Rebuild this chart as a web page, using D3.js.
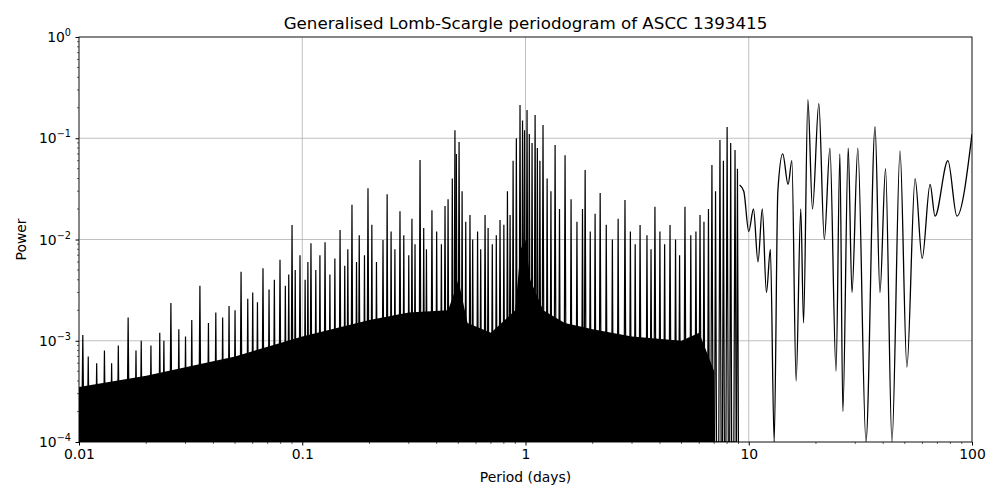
<!DOCTYPE html>
<html><head><meta charset="utf-8">
<script src="https://cdn.jsdelivr.net/npm/d3@7"></script>
<style>body{margin:0;background:#fff}text{font-family:"DejaVu Sans",sans-serif}</style>
</head><body><svg id="c" width="1000" height="500"></svg>
<script>
// noise-floor band (dense region)
const bandPeriod=[0.01,0.02,0.05,0.1,0.2,0.3,0.45,0.48,0.5,0.55,0.7,0.9,0.95,1.0,1.05,1.2,1.5,2,3,5,6,7];
const bandPower =[3.5e-4,4.5e-4,7e-4,1.1e-3,1.6e-3,1.9e-3,2e-3,3e-3,4e-3,1.5e-3,1.2e-3,2e-3,8e-3,1e-2,4e-3,2e-3,1.5e-3,1.3e-3,1.1e-3,1e-3,1.2e-3,5e-4];
// individual main peaks
const spikePeriod=[0.0104,0.0166,0.0258,0.0348,0.0532,0.0667,0.0795,0.090,0.0977,0.1094,0.1265,0.1477,0.167,0.197,0.230,0.274,0.337,0.381,0.436,0.483,0.504,0.564,0.659,0.769,0.853,0.945,1.016,1.104,1.198,1.357,1.504,1.85,2.16,2.79,3.26,3.80,4.44,5.18,6.05,6.84,7.43,8.0,8.68];
const spikePower=[1.14e-3,1.7e-3,2.36e-3,3.5e-3,4.8e-3,5.2e-3,6.3e-3,1.39e-2,7e-3,9.2e-3,9.4e-3,1.24e-2,2.2e-2,3.2e-2,9.9e-3,1.9e-2,6.1e-2,1.95e-2,2.14e-2,0.12,0.092,1.75e-2,1.75e-2,1.56e-2,1.75e-2,0.213,0.19,0.17,0.135,0.086,0.068,0.0486,0.0288,0.0245,0.0139,0.021,0.0139,0.021,0.0175,0.0544,0.096,0.129,0.0766];
// secondary peaks (texture)
const minorPeriod=[0.011,0.012,0.013,0.014,0.015,0.018,0.019,0.021,0.023,0.024,0.028,0.030,0.032,0.038,0.041,0.044,0.047,0.050,0.057,0.060,0.063,0.071,0.075,0.084,0.087,0.093,0.103,0.106,0.115,0.12,0.133,0.14,0.155,0.16,0.175,0.18,0.19,0.205,0.215,0.24,0.25,0.26,0.285,0.30,0.31,0.32,0.35,0.36,0.40,0.42,0.45,0.47,0.49,0.52,0.54,0.58,0.61,0.63,0.68,0.71,0.74,0.80,0.83,0.88,0.91,0.97,0.99,1.04,1.07,1.13,1.16,1.25,1.3,1.42,1.6,1.7,1.8,1.95,2.05,2.3,2.45,2.6,2.95,3.1,3.5,3.65,4.0,4.2,4.7,4.9,5.5,5.8,6.3,6.6,7.1,7.7,8.3,8.9];
const minorPower=[7e-4,6e-4,8e-4,6e-4,9e-4,8e-4,1e-3,9e-4,1.2e-3,1e-3,1.3e-3,1.1e-3,1.6e-3,1.5e-3,1.9e-3,1.7e-3,2.2e-3,2e-3,2.6e-3,3e-3,2.4e-3,3.2e-3,4e-3,3.5e-3,4.5e-3,5e-3,4e-3,6e-3,5e-3,7e-3,4.5e-3,6.5e-3,5.5e-3,8e-3,6e-3,1.1e-2,7e-3,1.4e-2,6e-3,2.8e-2,1.2e-2,8e-3,1.1e-2,7e-3,1.6e-2,9e-3,1.3e-2,8e-3,1.2e-2,9e-3,2.5e-2,4e-2,7e-2,3e-2,1.5e-2,1e-2,1.2e-2,8e-3,1.3e-2,9e-3,1.1e-2,1.4e-2,3e-2,6e-2,0.1,0.15,0.12,0.11,0.09,0.08,0.06,0.04,0.03,0.02,0.025,0.015,0.02,0.012,0.018,0.014,0.01,0.016,0.012,0.009,0.011,0.008,0.012,0.009,0.01,0.007,0.011,0.012,0.015,0.02,0.03,0.06,0.09,0.05];
// smooth long-period part
const longPeriod=[9.1,9.5,10,10.5,11,11.5,12,12.5,13,13.5,14.2,15,15.6,16.3,17.1,17.6,18.4,19.3,20.6,21.8,23.1,24.6,25.6,26.4,27.9,29.0,30.8,33.5,36.8,38.7,41,43.8,47.6,51.1,55.6,59.8,64.9,68.3,78.0,85.6,100];
const longPower=[0.0345,0.03,0.012,0.02,0.006,0.02,0.003,0.008,0.0001,0.03,0.07,0.035,0.06,0.0004,0.02,0.0015,0.24,0.02,0.22,0.01,0.08,0.0005,0.07,0.0002,0.08,0.003,0.08,0.0001,0.13,0.003,0.05,0.0001,0.075,0.00055,0.04,0.0065,0.035,0.017,0.06,0.017,0.11];
const xTicks=[0.01,0.1,1,10,100], xTickLabels=["0.01","0.1","1","10","100"];
const yTicks=[1e-4,1e-3,1e-2,1e-1,1], yExp=["−4","−3","−2","−1","0"];

const svg=d3.select("#c");
const L=79,R=972,T=37,B=442;
const x=d3.scaleLog().domain([0.01,100]).range([L,R]);
const y=d3.scaleLog().domain([1e-4,1]).range([B,T]).clamp(true);
const g=svg.append("g");
g.selectAll(".gx").data(xTicks).enter().append("line").attr("x1",d=>x(d)).attr("x2",d=>x(d)).attr("y1",T).attr("y2",B).attr("stroke","#b0b0b0").attr("stroke-width",0.8);
g.selectAll(".gy").data(yTicks).enter().append("line").attr("y1",d=>y(d)).attr("y2",d=>y(d)).attr("x1",L).attr("x2",R).attr("stroke","#b0b0b0").attr("stroke-width",0.8);
svg.append("clipPath").attr("id","cp").append("rect").attr("x",L).attr("y",T).attr("width",R-L).attr("height",B-T);
const pg=svg.append("g").attr("clip-path","url(#cp)");
const band=bandPeriod.map((p,i)=>[p,bandPower[i]]);
pg.append("path").attr("d",d3.area().x(d=>x(d[0])).y0(B).y1(d=>y(d[1]))(band)).attr("fill","#000");
function zig(ps,vs,w){const z=[];ps.forEach((p,i)=>{z.push([p*(1-w),1e-4]);z.push([p,vs[i]]);z.push([p*(1+w),1e-4]);});return z;}
const ln=d3.line().x(d=>x(d[0])).y(d=>y(d[1]));
pg.append("path").attr("d",ln(zig(minorPeriod,minorPower,0.01))).attr("fill","none").attr("stroke","#000").attr("stroke-width",1.2);
pg.append("path").attr("d",ln(zig(spikePeriod,spikePower,0.012))).attr("fill","none").attr("stroke","#000").attr("stroke-width",1.2);
const lg=longPeriod.map((p,i)=>[p,longPower[i]]);
pg.append("path").attr("d",d3.line().x(d=>x(d[0])).y(d=>y(Math.max(d[1],1e-4))).curve(d3.curveMonotoneX)(lg)).attr("fill","none").attr("stroke","#000").attr("stroke-width",1.3);
svg.append("rect").attr("x",L).attr("y",T).attr("width",R-L).attr("height",B-T).attr("fill","none").attr("stroke","#000").attr("stroke-width",0.8);
const xa=d3.axisBottom(x).tickValues(xTicks).tickFormat((d,i)=>xTickLabels[i]).tickSize(3.5).tickPadding(3.5);
const xg=svg.append("g").attr("transform",`translate(0,${B})`).call(xa);
xg.select(".domain").remove();
xg.selectAll("text").attr("font-size",13.9).attr("font-family","DejaVu Sans");
const minorX=[];for(let e=-2;e<2;e++)for(let k=2;k<10;k++)minorX.push(k*Math.pow(10,e));
svg.selectAll(".mx").data(minorX).enter().append("line").attr("x1",d=>x(d)).attr("x2",d=>x(d)).attr("y1",B).attr("y2",B+2).attr("stroke","#000").attr("stroke-width",0.6);
const ya=d3.axisLeft(y).tickValues(yTicks).tickFormat("").tickSize(3.5);
const yg=svg.append("g").attr("transform",`translate(${L},0)`).call(ya);
yg.select(".domain").remove();
const minorY=[];for(let e=-4;e<0;e++)for(let k=2;k<10;k++)minorY.push(k*Math.pow(10,e));
svg.selectAll(".my").data(minorY).enter().append("line").attr("y1",d=>y(d)).attr("y2",d=>y(d)).attr("x1",L).attr("x2",L-2).attr("stroke","#000").attr("stroke-width",0.6);
yTicks.forEach((d,i)=>{
 const t=svg.append("text").attr("x",L-8).attr("y",y(d)+5).attr("text-anchor","end").attr("font-size",13.9);
 t.append("tspan").text("10");
 t.append("tspan").attr("dy",-6).attr("font-size",9.7).text(yExp[i]);
});
svg.append("text").attr("x",(L+R)/2).attr("y",482).attr("text-anchor","middle").attr("font-size",13.9).text("Period (days)");
svg.append("text").attr("transform",`translate(26,${(T+B)/2}) rotate(-90)`).attr("text-anchor","middle").attr("font-size",13.9).text("Power");
svg.append("text").attr("x",(L+R)/2).attr("y",29).attr("text-anchor","middle").attr("font-size",16.7).text("Generalised Lomb-Scargle periodogram of ASCC 1393415");
</script></body></html>
